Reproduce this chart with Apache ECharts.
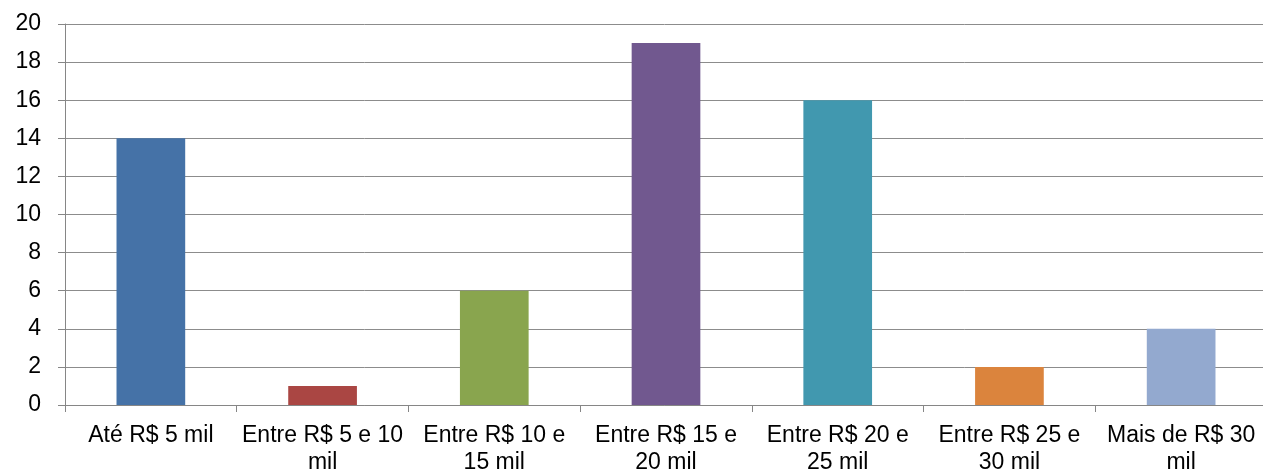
<!DOCTYPE html>
<html>
<head>
<meta charset="utf-8">
<script src="https://cdn.jsdelivr.net/npm/echarts@6/dist/echarts.min.js"></script>
<style>
html,body{margin:0;padding:0;background:#fff;}
#c{width:1263px;height:470px;}
</style>
</head>
<body>
<div id="c"></div>
<script>
const categories = ["Até R$ 5 mil", "Entre R$ 5 e 10\nmil", "Entre R$ 10 e\n15 mil", "Entre R$ 15 e\n20 mil", "Entre R$ 20 e\n25 mil", "Entre R$ 25 e\n30 mil", "Mais de R$ 30\nmil"];
const values = [14, 1, 6, 19, 16, 2, 4];
const colors = ["#4572A7", "#AA4643", "#89A54E", "#71588F", "#4198AF", "#DB843D", "#93A9CF"];
const yTicks = [0, 2, 4, 6, 8, 10, 12, 14, 16, 18, 20];

const chart = echarts.init(document.getElementById('c'), null, {renderer: 'canvas'});
chart.setOption({
  animation: false,
  grid: {left: 65, top: 24, width: 1202, height: 381, containLabel: false, outerBoundsMode: 'none'},
  xAxis: {
    type: 'category',
    data: categories,
    axisLine: {show: true, lineStyle: {color: '#868686', width: 1}},
    axisTick: {show: true, length: 7, lineStyle: {color: '#868686'}},
    axisLabel: {color: '#000', fontFamily: 'Liberation Sans, Arial, sans-serif', fontSize: 23, lineHeight: 27, margin: 17, interval: 0}
  },
  yAxis: {
    type: 'value',
    min: yTicks[0], max: yTicks[yTicks.length - 1], interval: 2,
    axisLine: {show: true, lineStyle: {color: '#868686', width: 1}},
    axisTick: {show: true, length: 7, lineStyle: {color: '#868686'}},
    splitLine: {show: true, lineStyle: {color: '#8c8c8c', width: 1}},
    axisLabel: {color: '#000', fontFamily: 'Liberation Sans, Arial, sans-serif', fontSize: 23, margin: 24}
  },
  series: [{
    type: 'bar',
    data: values.map((v, i) => ({value: v, itemStyle: {color: colors[i]}})),
    barWidth: '40%'
  }]
});
</script>
</body>
</html>
